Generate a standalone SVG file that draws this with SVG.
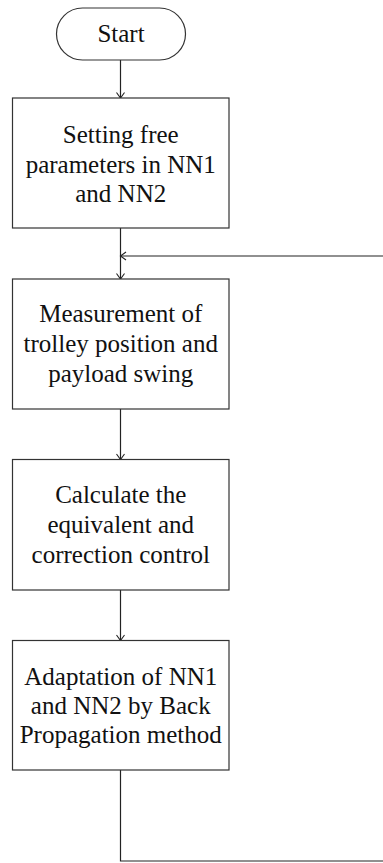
<svg xmlns="http://www.w3.org/2000/svg" width="383" height="863" viewBox="0 0 383 863">
<style>
.box{fill:#fff;stroke:#333;stroke-width:1.2}
.t{font-family:"Liberation Serif","Times New Roman",serif;font-size:25px;fill:#111;text-anchor:middle}
.c{fill:none;stroke:#222;stroke-width:1.2}
</style>
<defs>
<marker id="ah" markerUnits="userSpaceOnUse" markerWidth="12" markerHeight="12" refX="6" refY="4.5" orient="auto" viewBox="0 0 12 12" overflow="visible">
<path d="M0.5,0.5 L6,4.5 L0.5,8.5" fill="none" stroke="#222" stroke-width="1.1"/>
</marker>
</defs>
<g id="connectors">
<path class="c" d="M120.5,60 V98" marker-end="url(#ah)"/>
<path class="c" d="M120.5,228 V279" marker-end="url(#ah)"/>
<path class="c" d="M120.5,409 V459.5" marker-end="url(#ah)"/>
<path class="c" d="M120.5,590 V640.5" marker-end="url(#ah)"/>
<path class="c" d="M120.5,770 V861 H385 V256 H120.5" marker-end="url(#ah)"/>
</g>
<g id="start">
<rect class="box" x="56.5" y="8" width="129" height="52" rx="26" ry="26"/>
<text class="t" x="121" y="42">Start</text>
</g>
<g id="setting">
<rect class="box" x="12.5" y="98" width="216.5" height="130"/>
<text class="t" x="120.75" y="142.5">Setting free</text>
<text class="t" x="120.75" y="172.5">parameters in NN1</text>
<text class="t" x="120.75" y="202">and NN2</text>
</g>
<g id="measurement">
<rect class="box" x="12.5" y="279" width="216.5" height="130"/>
<text class="t" x="120.75" y="322">Measurement of</text>
<text class="t" x="120.75" y="352">trolley position and</text>
<text class="t" x="120.75" y="382">payload swing</text>
</g>
<g id="calculate">
<rect class="box" x="12.5" y="459.5" width="216.5" height="130.5"/>
<text class="t" x="120.75" y="502.7">Calculate the</text>
<text class="t" x="120.75" y="532.5">equivalent and</text>
<text class="t" x="120.75" y="562.5">correction control</text>
</g>
<g id="adaptation">
<rect class="box" x="12.5" y="640.5" width="216.5" height="129.5"/>
<text class="t" x="120.75" y="685">Adaptation of NN1</text>
<text class="t" x="120.75" y="714">and NN2 by Back</text>
<text class="t" x="120.75" y="743.3">Propagation method</text>
</g>
</svg>
